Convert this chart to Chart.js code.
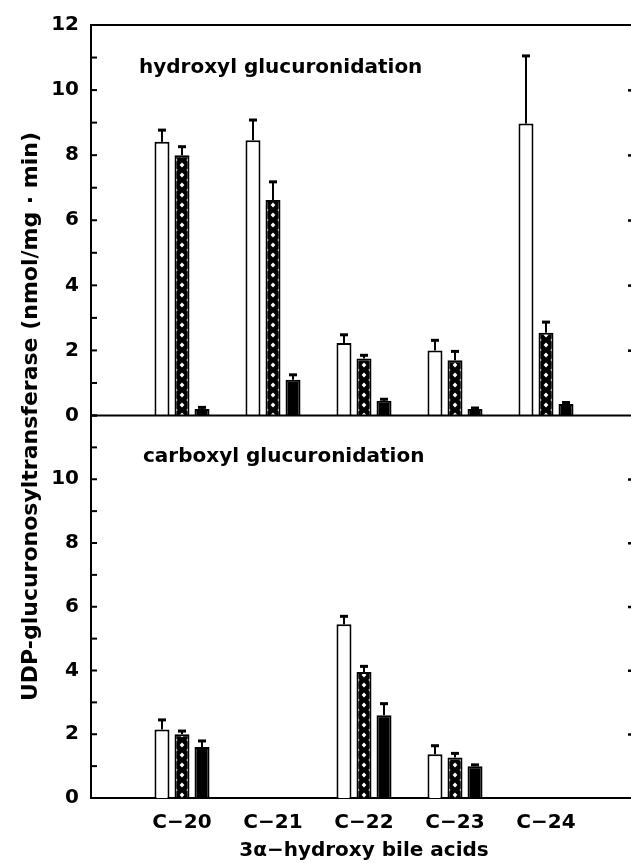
<!DOCTYPE html>
<html>
<head>
<meta charset="utf-8">
<script src="https://cdn.jsdelivr.net/npm/chart.js@4"></script>
<style>
  html, body { margin: 0; padding: 0; background: #fff; overflow: hidden; }
  #chart { display: block; }
</style>
</head>
<body>
<!-- a few px wider than the window: the scanned plot runs off the right edge -->
<canvas id="chart" width="637" height="863"></canvas>
<script>
const categories = ["C−20", "C−21", "C−22", "C−23", "C−24"];
const panelTitles = ["hydroxyl glucuronidation", "carboxyl glucuronidation"];
const yTitle = "UDP-glucuronosyltransferase (nmol/mg · min)";
const xTitle = "3α−hydroxy bile acids";

// upper panel: hydroxyl glucuronidation
const hydroxylWhite = [8.41, 8.46, 2.23, 2.0, 8.97];
const hydroxylWhiteErr = [0.36, 0.62, 0.25, 0.31, 2.08];
const hydroxylHatched = [8.0, 6.62, 1.75, 1.7, 2.54];
const hydroxylHatchedErr = [0.26, 0.56, 0.1, 0.27, 0.33];
const hydroxylBlack = [0.2, 1.1, 0.45, 0.2, 0.35];
const hydroxylBlackErr = [0.05, 0.15, 0.05, 0.03, 0.05];

// lower panel: carboxyl glucuronidation
const carboxylWhite = [2.15, null, 5.45, 1.37, null];
const carboxylWhiteErr = [0.3, null, 0.25, 0.27, null];
const carboxylHatched = [2.0, null, 3.95, 1.27, null];
const carboxylHatchedErr = [0.1, null, 0.18, 0.13, null];
const carboxylBlack = [1.6, null, 2.6, 1.0, null];
const carboxylBlackErr = [0.19, null, 0.36, 0.04, null];

const yTicks = [0, 2, 4, 6, 8, 10, 12];

// one empty slot at each end so the groups sit where they do in the figure
const pad = (arr) => [null, ...arr, null];
const labels = pad(categories).map((c) => c || "");

const canvas = document.getElementById("chart");
const ctx = canvas.getContext("2d");

function hatchTile() {
  const t = document.createElement("canvas");
  t.width = 12;
  t.height = 10;
  const g = t.getContext("2d");
  g.fillStyle = "#000";
  g.fillRect(0, 0, 12, 10);
  g.fillStyle = "#fff";
  const diamond = (x, y, r) => {
    g.beginPath();
    g.moveTo(x, y - r);
    g.lineTo(x + r, y);
    g.lineTo(x, y + r);
    g.lineTo(x - r, y);
    g.closePath();
    g.fill();
  };
  diamond(6, 5, 2.4);
  [[0, 0], [12, 0], [0, 10], [12, 10]].forEach(([x, y]) => diamond(x, y, 1.6));
  return t;
}
const tile = hatchTile();

// middle bar of each group sits on the category centre, line the pattern up with it
function hatched(c) {
  const p = ctx.createPattern(tile, "repeat");
  const x = c.chart.scales.x;
  if (x && typeof x.getPixelForValue === "function") {
    const cx = x.getPixelForValue(c.dataIndex);
    p.setTransform(new DOMMatrix().translate(cx - 6, 0));
  }
  return p;
}

const FONT = "DejaVu Sans";

function barSet(data, errors, axis, stack, fill) {
  return {
    data: pad(data),
    errors: pad(errors),
    yAxisID: axis,
    stack: stack,
    backgroundColor: fill,
    borderColor: "#000",
    borderWidth: 2,
    categoryPercentage: 0.66,
    barPercentage: 0.75,
  };
}

const decor = {
  id: "decor",
  afterDatasetsDraw(chart) {
    const c = chart.ctx;
    const { left, right, top, bottom } = chart.chartArea;
    const yTop = chart.scales.yTop;
    const yBot = chart.scales.yBot;
    const edge = Math.min(right, window.innerWidth || chart.width);
    c.save();
    c.strokeStyle = "#000";
    c.fillStyle = "#000";
    c.lineWidth = 2;
    const line = (x1, y1, x2, y2) => {
      c.beginPath();
      c.moveTo(x1, y1);
      c.lineTo(x2, y2);
      c.stroke();
    };
    line(left, yTop.getPixelForValue(12), right, yTop.getPixelForValue(12));
    line(left, yTop.getPixelForValue(0), right, yTop.getPixelForValue(0));

    // inward ticks on the left, faint ones on the right edge
    [yTop, yBot].forEach((s) => {
      for (let v = 0; v <= 12; v++) {
        const y = s.getPixelForValue(v);
        line(left, y, left + 6, y);
        if (v % 2 === 0 && v > 0 && v < 12) c.fillRect(edge - 3, y - 1, 3, 2.5);
      }
    });

    // error bars (upper only)
    chart.data.datasets.forEach((ds, i) => {
      const meta = chart.getDatasetMeta(i);
      const s = chart.scales[ds.yAxisID];
      meta.data.forEach((bar, j) => {
        const v = ds.data[j];
        const e = ds.errors[j];
        if (v == null || e == null) return;
        const yEnd = s.getPixelForValue(v + e);
        c.lineWidth = 2;
        line(bar.x, bar.y, bar.x, yEnd);
        c.fillRect(bar.x - 4, yEnd - 1.5, 8, 3);
      });
    });

    c.font = "bold 20px '" + FONT + "'";
    c.textAlign = "left";
    c.textBaseline = "middle";
    c.fillText(panelTitles[0], left + 48, yTop.getPixelForValue(10.7));
    c.fillText(panelTitles[1], left + 52, yBot.getPixelForValue(10.7));

    c.translate(31, (top + bottom) / 2 + 5);
    c.rotate(-Math.PI / 2);
    c.textAlign = "center";
    c.font = "bold 22px '" + FONT + "'";
    c.fillText(yTitle, 0, 0);
    c.restore();
  },
};

function yAxis(weight, hideTop) {
  return {
    type: "linear",
    position: "left",
    stack: "panels",
    stackWeight: weight,
    stacked: false,
    min: 0,
    max: 12,
    offset: false,
    grid: { display: false, drawTicks: false },
    border: { display: true, color: "#000", width: 2 },
    ticks: {
      stepSize: 1,
      autoSkip: false,
      padding: 12,
      color: "#000",
      font: { family: FONT, size: 20, weight: "bold" },
      callback: (v) => (yTicks.includes(v) && !(hideTop && v === 12) ? v : ""),
    },
    afterFit: (s) => {
      s.width = 91;
    },
  };
}

new Chart(canvas, {
  type: "bar",
  data: {
    labels: labels,
    datasets: [
      barSet(hydroxylWhite, hydroxylWhiteErr, "yTop", "a", "#fff"),
      barSet(hydroxylHatched, hydroxylHatchedErr, "yTop", "b", hatched),
      barSet(hydroxylBlack, hydroxylBlackErr, "yTop", "c", "#000"),
      barSet(carboxylWhite, carboxylWhiteErr, "yBot", "a", "#fff"),
      barSet(carboxylHatched, carboxylHatchedErr, "yBot", "b", hatched),
      barSet(carboxylBlack, carboxylBlackErr, "yBot", "c", "#000"),
    ],
  },
  options: {
    responsive: false,
    animation: false,
    layout: { padding: { top: 25, left: 0, right: 0, bottom: 0 } },
    plugins: { legend: { display: false }, tooltip: { enabled: false } },
    scales: {
      x: {
        type: "category",
        offset: false,
        grid: { display: false, drawTicks: false },
        border: { display: true, color: "#000", width: 2 },
        ticks: {
          autoSkip: false,
          maxRotation: 0,
          padding: 13,
          color: "#000",
          font: { family: FONT, size: 20, weight: "bold" },
        },
        title: {
          display: true,
          text: xTitle,
          color: "#000",
          padding: 0,
          font: { family: FONT, size: 20, weight: "bold" },
        },
        afterFit: (s) => {
          s.height = 65;
          s.paddingLeft = 0;
          s.paddingRight = 0;
        },
      },
      yBot: yAxis(382, true),
      yTop: yAxis(390, false),
    },
  },
  plugins: [decor],
});
</script>
</body>
</html>
